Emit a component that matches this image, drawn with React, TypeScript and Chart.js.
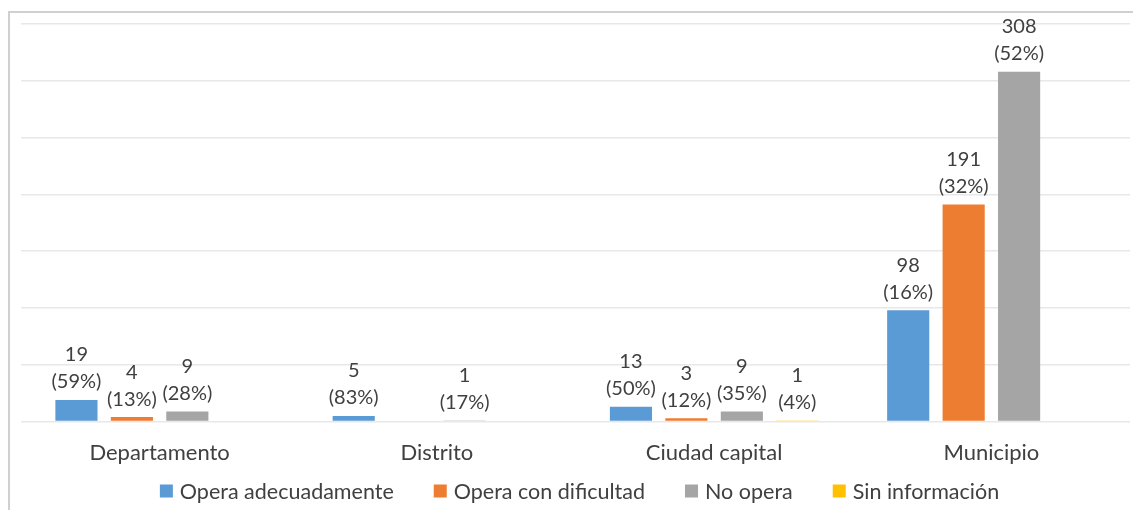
import React, { useEffect, useRef } from "react";
import { Chart, registerables } from "chart.js";

Chart.register(...registerables);

const categories = ["Departamento", "Distrito", "Ciudad capital", "Municipio"];
const seriesNames = ["Opera adecuadamente", "Opera con dificultad", "No opera", "Sin información"];
const operaAdecuadamente = [19, 5, 13, 98];
const operaDificultad = [4, 0, 3, 191];
const noOpera = [9, 1, 9, 308];
const sinInformacion = [0, 0, 1, 0];
const pctAdecuadamente = ["59%", "83%", "50%", "16%"];
const pctDificultad = ["13%", "", "12%", "32%"];
const pctNoOpera = ["28%", "17%", "35%", "52%"];
const pctSinInfo = ["", "", "4%", ""];
const colors = ["#5B9BD5", "#ED7D31", "#A5A5A5", "#FFC000"];

const FONT = "Lato, 'Open Sans', sans-serif";
const TEXT = "#404040";

const labelPlugin = {
  id: "valueLabels",
  afterDatasetsDraw(chart: any) {
    const ctx = chart.ctx;
    ctx.save();
    ctx.font = `20px ${FONT}`;
    ctx.fillStyle = TEXT;
    ctx.textAlign = "center";
    ctx.textBaseline = "middle";
    chart.data.datasets.forEach((ds: any, i: number) => {
      const meta = chart.getDatasetMeta(i);
      meta.data.forEach((el: any, j: number) => {
        const v = ds.data[j];
        if (!v) return;
        const pct = ds.pct[j];
        ctx.fillText(String(v), el.x, el.y - 18 - 27);
        ctx.fillText(`(${pct})`, el.x, el.y - 18);
      });
    });
    ctx.restore();
  },
};

const legendPlugin = {
  id: "customLegend",
  afterDraw(chart: any) {
    const ctx = chart.ctx;
    ctx.save();
    ctx.font = `21.5px ${FONT}`;
    ctx.textBaseline = "middle";
    ctx.textAlign = "left";
    const box = 13;
    const gapBoxText = 7;
    const gapItems = 40;
    const items = chart.data.datasets.map((ds: any) => ({
      label: ds.label,
      color: ds.backgroundColor,
      w: ctx.measureText(ds.label).width,
    }));
    const total =
      items.reduce((s: number, it: any) => s + box + gapBoxText + it.w, 0) + gapItems * (items.length - 1);
    const cx = (chart.chartArea.left + chart.chartArea.right) / 2 + 4;
    let x = cx - total / 2;
    const y = chart.height - 19;
    items.forEach((it: any) => {
      ctx.fillStyle = it.color;
      ctx.fillRect(x, y - box / 2, box, box);
      ctx.fillStyle = TEXT;
      ctx.fillText(it.label, x + box + gapBoxText, y + 1);
      x += box + gapBoxText + it.w + gapItems;
    });
    ctx.restore();
  },
};

export default function App() {
  const ref = useRef<HTMLCanvasElement>(null);
  useEffect(() => {
    if (!ref.current) return;
    const values = [operaAdecuadamente, operaDificultad, noOpera, sinInformacion];
    const pcts = [pctAdecuadamente, pctDificultad, pctNoOpera, pctSinInfo];
    const chart = new Chart(ref.current, {
      type: "bar",
      data: {
        labels: categories,
        datasets: seriesNames.map((name, i) => ({
          label: name,
          data: values[i],
          pct: pcts[i],
          backgroundColor: colors[i],
          borderWidth: 0,
          categoryPercentage: 0.8,
          barPercentage: 0.76,
        })) as any,
      },
      options: {
        animation: false,
        responsive: true,
        maintainAspectRatio: false,
        layout: { padding: { left: 11, right: 3, top: 11, bottom: 34 } },
        plugins: {
          tooltip: { enabled: false },
          legend: { display: false },
        },
        scales: {
          x: {
            grid: { display: false },
            border: { display: false },
            ticks: { color: TEXT, font: { size: 22, family: FONT }, padding: 10 },
          },
          y: {
            min: 0,
            max: 350,
            ticks: { display: false, stepSize: 50 },
            grid: { color: "#E8E8E8", lineWidth: 1.5, drawTicks: false },
            border: { display: false },
          },
        },
      },
      plugins: [labelPlugin, legendPlugin],
    });
    return () => chart.destroy();
  }, []);
  return (
    <div
      style={{
        position: "absolute",
        left: 8,
        top: 11,
        width: 1125,
        height: 499,
        borderLeft: "2px solid #D0D0D0",
        borderTop: "2px solid #D0D0D0",
        boxSizing: "border-box",
        background: "#fff",
      }}
    >
      <div style={{ position: "relative", width: "100%", height: "100%" }}>
        <canvas ref={ref} />
      </div>
    </div>
  );
}
